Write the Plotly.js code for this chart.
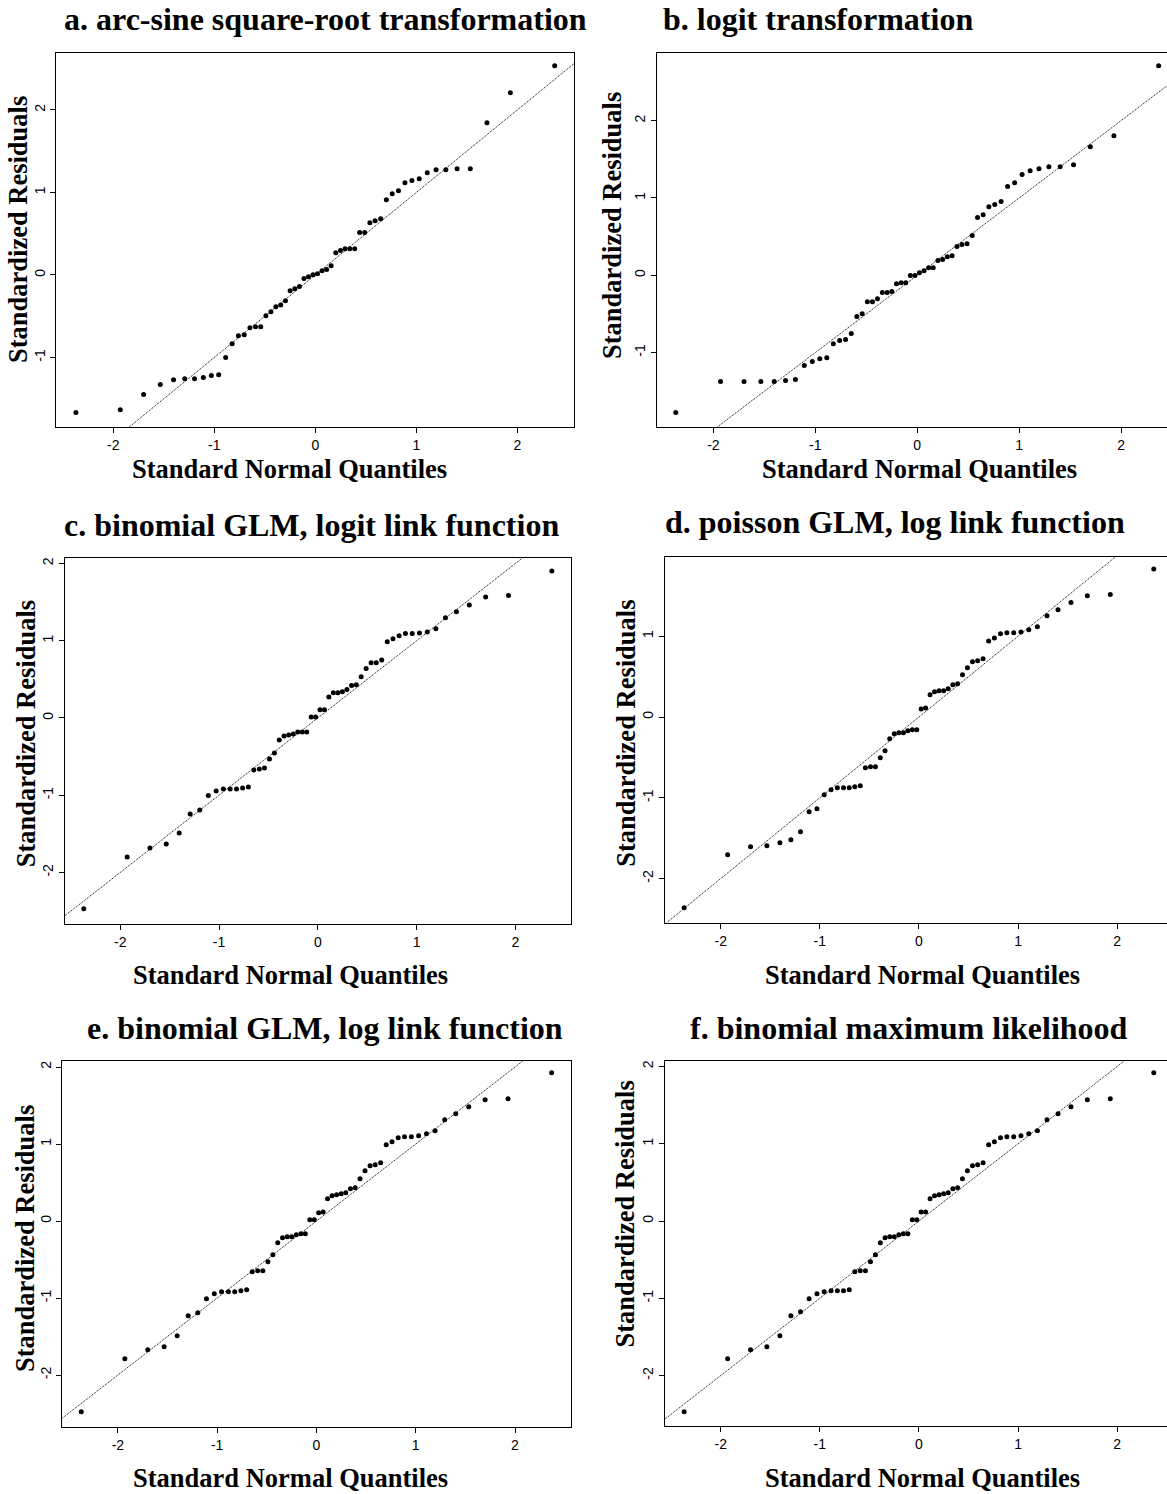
<!DOCTYPE html>
<html>
<head>
<meta charset="utf-8">
<script src="https://cdn.plot.ly/plotly-3.0.1.min.js"></script>
<style>
html, body { margin: 0; padding: 0; overflow: hidden; background: #ffffff; }
#chart { width: 1180px; height: 1494px; }
</style>
</head>
<body>
<div id="chart"></div>
<script>
// ---------------- DATA ----------------
// theoretical standard normal quantiles (56 observations)
const theoreticalQuantiles = [-2.369, -1.930, -1.699, -1.534, -1.403, -1.292, -1.195, -1.108, -1.029, -0.956,
  -0.887, -0.823, -0.761, -0.703, -0.647, -0.592, -0.540, -0.489, -0.439, -0.390,
  -0.342, -0.295, -0.249, -0.203, -0.157, -0.112, -0.067, -0.022, 0.022, 0.067,
  0.112, 0.157, 0.203, 0.249, 0.295, 0.342, 0.390, 0.439, 0.489, 0.540,
  0.592, 0.647, 0.703, 0.761, 0.823, 0.887, 0.956, 1.029, 1.108, 1.195,
  1.292, 1.403, 1.534, 1.699, 1.930, 2.369];

const residualsA = [-1.667, -1.631, -1.449, -1.328, -1.268, -1.256, -1.256, -1.243, -1.219, -1.207,
  -1.001, -0.832, -0.735, -0.723, -0.638, -0.626, -0.626, -0.493, -0.444, -0.384,
  -0.363, -0.311, -0.190, -0.166, -0.141, -0.044, -0.020, 0.004, 0.016, 0.052,
  0.065, 0.113, 0.270, 0.295, 0.319, 0.319, 0.319, 0.513, 0.513, 0.634,
  0.658, 0.682, 0.912, 0.985, 1.021, 1.118, 1.143, 1.167, 1.239, 1.276,
  1.276, 1.288, 1.288, 1.845, 2.208, 2.535];

const residualsB = [-1.776, -1.375, -1.375, -1.375, -1.375, -1.362, -1.349, -1.168, -1.116, -1.078,
  -1.065, -0.884, -0.845, -0.832, -0.754, -0.534, -0.496, -0.341, -0.341, -0.302,
  -0.224, -0.224, -0.211, -0.108, -0.095, -0.095, -0.004, -0.004, 0.034, 0.060,
  0.099, 0.099, 0.190, 0.203, 0.241, 0.254, 0.371, 0.397, 0.409, 0.513,
  0.746, 0.784, 0.888, 0.914, 0.953, 1.147, 1.198, 1.302, 1.353, 1.379,
  1.405, 1.405, 1.431, 1.664, 1.806, 2.711];

const residualsC = [-2.468, -1.799, -1.683, -1.631, -1.489, -1.243, -1.191, -1.005, -0.945, -0.919,
  -0.919, -0.919, -0.906, -0.893, -0.673, -0.660, -0.647, -0.531, -0.453, -0.285,
  -0.233, -0.220, -0.207, -0.181, -0.181, -0.181, 0.013, 0.013, 0.108, 0.108,
  0.272, 0.328, 0.328, 0.341, 0.367, 0.419, 0.431, 0.535, 0.639, 0.716,
  0.716, 0.751, 0.988, 1.027, 1.066, 1.092, 1.092, 1.100, 1.113, 1.156,
  1.299, 1.376, 1.463, 1.566, 1.584, 1.903];

const residualsD = [-2.361, -1.705, -1.605, -1.593, -1.556, -1.519, -1.420, -1.172, -1.135, -0.962,
  -0.900, -0.875, -0.875, -0.875, -0.863, -0.850, -0.627, -0.615, -0.615, -0.504,
  -0.417, -0.268, -0.206, -0.194, -0.194, -0.169, -0.157, -0.157, 0.099, 0.111,
  0.277, 0.314, 0.326, 0.326, 0.351, 0.400, 0.413, 0.524, 0.611, 0.685,
  0.697, 0.722, 0.941, 0.978, 1.032, 1.044, 1.044, 1.052, 1.081, 1.118,
  1.255, 1.329, 1.416, 1.502, 1.515, 1.832];

const residualsE = [-2.476, -1.788, -1.671, -1.632, -1.489, -1.229, -1.190, -1.009, -0.944, -0.918,
  -0.918, -0.918, -0.905, -0.892, -0.658, -0.645, -0.645, -0.528, -0.437, -0.281,
  -0.216, -0.203, -0.203, -0.177, -0.165, -0.165, 0.017, 0.017, 0.108, 0.117,
  0.290, 0.329, 0.342, 0.355, 0.368, 0.420, 0.433, 0.550, 0.654, 0.719,
  0.732, 0.758, 0.991, 1.030, 1.082, 1.095, 1.095, 1.108, 1.134, 1.173,
  1.316, 1.394, 1.485, 1.576, 1.589, 1.926];

const residualsF = [-2.468, -1.782, -1.666, -1.627, -1.484, -1.225, -1.174, -1.005, -0.941, -0.915,
  -0.902, -0.902, -0.902, -0.889, -0.656, -0.643, -0.643, -0.526, -0.436, -0.280,
  -0.216, -0.203, -0.203, -0.177, -0.164, -0.164, 0.017, 0.017, 0.117, 0.117,
  0.289, 0.328, 0.341, 0.354, 0.367, 0.419, 0.432, 0.548, 0.652, 0.716,
  0.729, 0.755, 0.988, 1.027, 1.079, 1.092, 1.092, 1.105, 1.131, 1.169,
  1.312, 1.389, 1.480, 1.571, 1.584, 1.920];

const panelTitles = [
  "a. arc-sine square-root transformation",
  "b. logit transformation",
  "c. binomial GLM, logit link function",
  "d. poisson GLM, log link function",
  "e. binomial GLM, log link function",
  "f. binomial maximum likelihood"
];
const xAxisTitle = "Standard Normal Quantiles";
const yAxisTitle = "Standardized Residuals";

// reference line y = intercept + slope * x
const refIntercept = 0;
const refSlope = 1;

const tickValues = [-2, -1, 0, 1, 2];
const tickLabels = ["-2", "-1", "0", "1", "2"];

// ---------------- LAYOUT (pixels) ----------------
const PW = 1180, PH = 1494;
const residualSets = [residualsA, residualsB, residualsC, residualsD, residualsE, residualsF];
// plot boxes: [left, right, top, bottom]
const boxes = [
  [56.2, 574.4, 53.3, 427.3],
  [657.0, 1177.4, 53.3, 427.3],
  [64.9, 570.7, 558.3, 924.0],
  [664.9, 1173.0, 557.3, 922.7],
  [62.2, 570.7, 1061.0, 1426.7],
  [664.9, 1173.0, 1061.0, 1425.7]
];
const xRanges = [[-2.564, 2.564], [-2.553, 2.553], [-2.56, 2.56], [-2.563, 2.563], [-2.561, 2.561], [-2.563, 2.563]];
const yRanges = [[-1.845, 2.685], [-1.966, 2.871], [-2.667, 2.067], [-2.546, 1.977], [-2.671, 2.078], [-2.649, 2.071]];
// text centres [x, y] in pixels
const titlePos = [[325, 19], [818, 18.5], [311.5, 525], [894.7, 522], [325.3, 1027.5], [908.8, 1027.5]];
const xTitlePos = [[289.5, 469], [919.4, 469], [290, 975], [922, 975], [290, 1478], [922, 1478]];
const yTitlePos = [[18, 230], [612, 226], [25.7, 733.5], [625.3, 733.5], [25.7, 1238.3], [625.3, 1214.2]];

const serif = "Liberation Serif, Times New Roman, Times, serif";
const sans = "Liberation Sans, Arial, Helvetica, sans-serif";
const px2x = v => v / PW;
const px2y = v => 1 - v / PH;

const traces = [];
const layout = {
  width: PW, height: PH,
  margin: {l: 0, r: 0, t: 0, b: 0},
  paper_bgcolor: "#ffffff", plot_bgcolor: "#ffffff",
  showlegend: false,
  annotations: []
};

residualSets.forEach((res, i) => {
  const n = i + 1;
  const sx = n === 1 ? "" : String(n);
  const xr = xRanges[i], yr = yRanges[i], b = boxes[i];

  // reference line (clipped to plot area)
  traces.push({
    type: "scatter", mode: "lines",
    x: xr, y: xr.map(v => refIntercept + refSlope * v),
    xaxis: "x" + sx, yaxis: "y" + sx,
    line: {color: "#000000", width: 1, dash: "1px,1px"},
    hoverinfo: "skip"
  });
  // points
  traces.push({
    type: "scatter", mode: "markers",
    x: theoreticalQuantiles, y: res,
    xaxis: "x" + sx, yaxis: "y" + sx,
    marker: {color: "#000000", size: 5, line: {width: 0}},
    cliponaxis: false
  });

  const common = {
    showline: true, mirror: true, linecolor: "#000000", linewidth: 1,
    ticks: "outside", ticklen: 5, tickwidth: 1, tickcolor: "#000000",
    tickvals: tickValues, ticktext: tickLabels,
    showgrid: false, zeroline: false, fixedrange: true,
    tickfont: {family: sans, size: 14, color: "#000000"}
  };
  layout["xaxis" + sx] = Object.assign({}, common, {
    domain: [px2x(b[0]), px2x(b[1])], range: xr, anchor: "y" + sx
  });
  layout["yaxis" + sx] = Object.assign({}, common, {
    domain: [px2y(b[3]), px2y(b[2])], range: yr, anchor: "x" + sx, tickangle: -90
  });

  layout.annotations.push({
    text: "<b>" + panelTitles[i] + "</b>", showarrow: false,
    xref: "paper", yref: "paper", x: px2x(titlePos[i][0]), y: px2y(titlePos[i][1]),
    xanchor: "center", yanchor: "middle",
    font: {family: serif, size: 32, color: "#000000"}
  });
  layout.annotations.push({
    text: "<b>" + xAxisTitle + "</b>", showarrow: false,
    xref: "paper", yref: "paper", x: px2x(xTitlePos[i][0]), y: px2y(xTitlePos[i][1]),
    xanchor: "center", yanchor: "middle",
    font: {family: serif, size: 26.5, color: "#000000"}
  });
  layout.annotations.push({
    text: "<b>" + yAxisTitle + "</b>", showarrow: false, textangle: -90,
    xref: "paper", yref: "paper", x: px2x(yTitlePos[i][0]), y: px2y(yTitlePos[i][1]),
    xanchor: "center", yanchor: "middle",
    font: {family: serif, size: 26.5, color: "#000000"}
  });
});

Plotly.newPlot("chart", traces, layout, {displayModeBar: false, staticPlot: true});
</script>
</body>
</html>
